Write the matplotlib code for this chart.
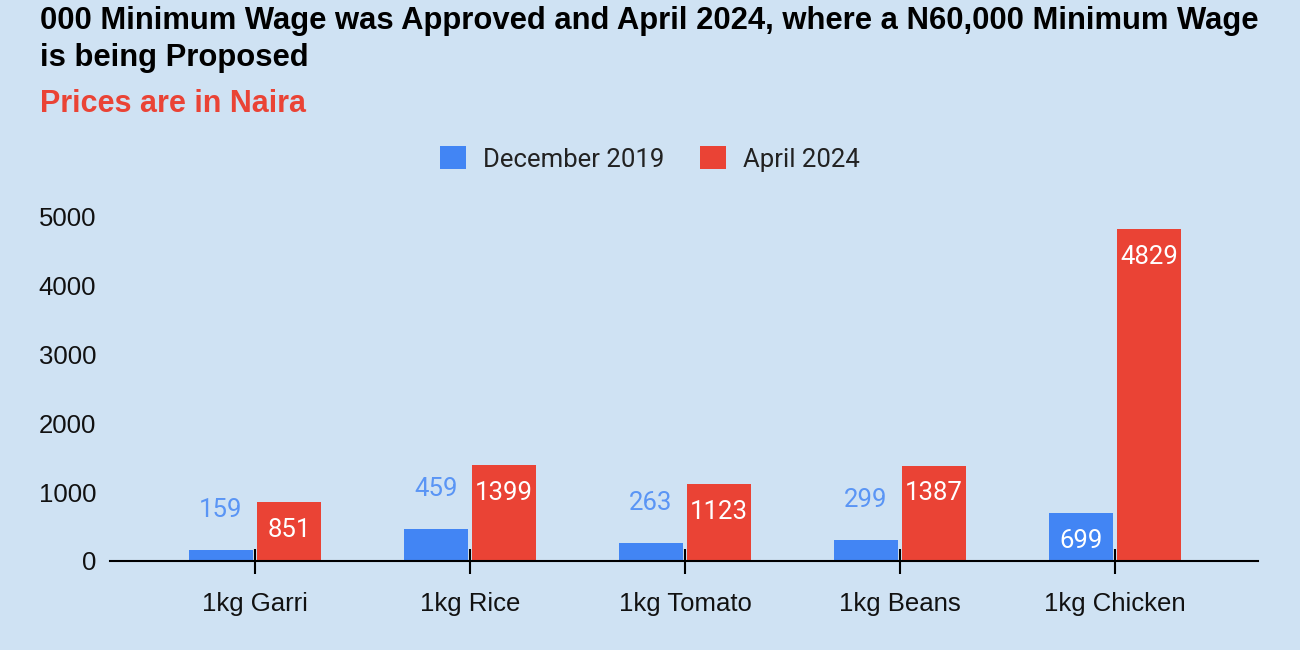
import numpy as np
import matplotlib
matplotlib.use("Agg")
import matplotlib.pyplot as plt

# -----------------------------
# data (prices in Naira)
categories = ["1kg Garri", "1kg Rice", "1kg Tomato", "1kg Beans", "1kg Chicken"]
dec_2019 = [159, 459, 263, 299, 699]
apr_2024 = [851, 1399, 1123, 1387, 4829]
series_names = ["December 2019", "April 2024"]
yticks = [0, 1000, 2000, 3000, 4000, 5000]

title = ("000 Minimum Wage was Approved and April 2024, where a N60,000 Minimum Wage\n"
         "is being Proposed")
subtitle = "Prices are in Naira"

# -----------------------------
bg = "#cfe2f3"
blue = "#4285f4"
red = "#ea4335"
blue_lbl = "#5a95f5"
fs = 18.5

fig = plt.figure(figsize=(13, 6.5), dpi=100, facecolor=bg)
ax = fig.add_axes([110/1300, 1 - 561/650, (1258 - 110)/1300, (561 - 217)/650])
ax.set_facecolor(bg)

x = np.arange(len(categories))
w = 0.298
gap = 0.01
b1 = ax.bar(x - w/2 - gap, dec_2019, w, color=blue, label=series_names[0], zorder=2)
b2 = ax.bar(x + w/2 + gap, apr_2024, w, color=red, label=series_names[1], zorder=2)

# data labels - inside the bar when it is tall enough, else above
for bars, vals, col in [(b1, dec_2019, blue_lbl), (b2, apr_2024, red)]:
    for r, v in zip(bars, vals):
        cx = r.get_x() + r.get_width()/2
        if v > 600:
            ax.annotate(str(v), (cx, v), xytext=(0, -20), textcoords="offset points",
                        ha="center", va="center", color="white", fontsize=fs,
                        family="Roboto", zorder=3)
        else:
            ax.annotate(str(v), (cx, v), xytext=(0, 29), textcoords="offset points",
                        ha="center", va="center", color=col, fontsize=fs,
                        family="Roboto", zorder=3)

ax.set_xlim(-0.674, 4.665)
ax.set_ylim(0, 5000)
ax.set_yticks(yticks)
ax.set_xticks(x)
ax.set_xticklabels(categories)

for s in ["top", "right", "left"]:
    ax.spines[s].set_visible(False)
ax.spines["bottom"].set_color("black")
ax.spines["bottom"].set_linewidth(1.5)
ax.spines["bottom"].set_zorder(4)

ax.tick_params(axis="x", direction="inout", length=18, width=1.5, pad=13,
               labelsize=fs, labelcolor="#111111")
ax.tick_params(axis="y", length=0, pad=10, labelsize=fs, labelcolor="#111111")
for lab in ax.get_xticklabels() + ax.get_yticklabels():
    lab.set_family("Liberation Sans")

fig.legend(loc="center", bbox_to_anchor=(650/1300, 1 - 159/650), ncol=2, frameon=False,
           prop={"family": "Roboto", "size": fs}, handlelength=1.0, handleheight=1.0,
           handletextpad=0.65, columnspacing=1.4, labelcolor="#222222")

fig.text(40/1300, 1 - 6/650, title, ha="left", va="top", fontsize=22.3, fontweight="bold",
         family="Liberation Sans", color="black", linespacing=1.3)
fig.text(40/1300, 1 - 89/650, subtitle, ha="left", va="top", fontsize=22,
         fontweight="bold", family="Liberation Sans", color=red)

fig.savefig("out.png", dpi=100, facecolor=bg)
